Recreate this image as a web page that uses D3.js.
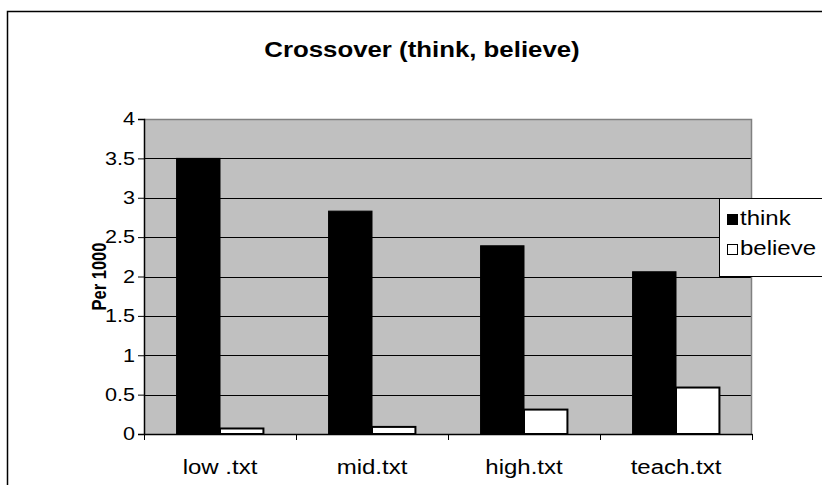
<!DOCTYPE html>
<html>
<head>
<meta charset="utf-8">
<script src="https://cdn.jsdelivr.net/npm/d3@7"></script>
<style>
  html, body { margin: 0; padding: 0; background: #fff; }
  svg { display: block; font-family: Arial, "Liberation Sans", sans-serif; }
</style>
</head>
<body>
<svg id="chart" width="822" height="485"></svg>
<script>
const categories = ["low .txt", "mid.txt", "high.txt", "teach.txt"];
const seriesNames = ["think", "believe"];
const thinkValues = [3.5, 2.83, 2.39, 2.06];
const believeValues = [0.07, 0.09, 0.31, 0.59];
const yTicks = [0, 0.5, 1, 1.5, 2, 2.5, 3, 3.5, 4];
const title = "Crossover (think, believe)";
const yTitle = "Per 1000";

const FONT = "Arial, 'Liberation Sans', sans-serif";
const svg = d3.select("#chart");
const plot = { left: 144, top: 119, right: 752, bottom: 434 };

// outer chart border
svg.append("rect")
  .attr("x", 7.5).attr("y", 11.5).attr("width", 840).attr("height", 500)
  .attr("fill", "#fff").attr("stroke", "#000").attr("stroke-width", 1.5);

const x = d3.scaleBand().domain(categories).range([plot.left, plot.right]).paddingInner(0).paddingOuter(0);
const y = d3.scaleLinear().domain([0, 4]).range([plot.bottom, plot.top]);

// plot background
svg.append("rect")
  .attr("x", plot.left).attr("y", plot.top)
  .attr("width", plot.right - plot.left).attr("height", plot.bottom - plot.top)
  .attr("fill", "#c0c0c0");

// gridlines
svg.append("g").selectAll("line").data(yTicks.filter(d => d > 0 && d < 4)).join("line")
  .attr("x1", plot.left).attr("x2", plot.right)
  .attr("y1", d => Math.round(y(d)) + 0.5).attr("y2", d => Math.round(y(d)) + 0.5)
  .attr("stroke", "#000").attr("stroke-width", 1);

// plot border top and right (grey)
svg.append("path")
  .attr("d", `M${plot.left},${plot.top + 0.5}H${plot.right - 0.5}V${plot.bottom}`)
  .attr("fill", "none").attr("stroke", "#808080").attr("stroke-width", 1.5);

// bars
const groupW = x.bandwidth();
const barW = groupW / 3.5;
const off = (groupW - 2 * barW) / 2;
const data = categories.map((c, i) => ({ c, vals: [thinkValues[i], believeValues[i]] }));

const g = svg.append("g");
data.forEach(d => {
  d.vals.forEach((v, j) => {
    const bx = x(d.c) + off + j * barW;
    g.append("rect")
      .attr("x", bx).attr("y", y(v))
      .attr("width", barW).attr("height", y(0) - y(v))
      .attr("fill", j === 0 ? "#000" : "#fff")
      .attr("stroke", "#000").attr("stroke-width", j === 0 ? 1 : 2);
  });
});

// y axis
const yAxis = d3.axisLeft(y).tickValues(yTicks).tickSize(6).tickPadding(3).tickFormat(d3.format("~g"));
const yg = svg.append("g").attr("transform", `translate(${plot.left},0)`).call(yAxis);
yg.select(".domain").attr("stroke", "#000").attr("stroke-width", 1.5);
yg.selectAll(".tick line").attr("stroke", "#000");
yg.selectAll("text").attr("font-size", 18).attr("fill", "#000")
  .attr("font-family", FONT).attr("class", "stretch");

// x axis
const xAxis = d3.axisBottom(x).tickSize(0).tickPadding(22);
const xg = svg.append("g").attr("transform", `translate(0,${plot.bottom})`).call(xAxis);
xg.select(".domain").attr("stroke", "#000").attr("stroke-width", 1.5);
xg.selectAll("text").attr("font-size", 20).attr("fill", "#000")
  .attr("font-family", FONT).attr("class", "stretch")
  .attr("y", 40).attr("dy", null);
// category boundary tick marks
svg.append("g").selectAll("line").data(categories.concat(["__end"])).join("line")
  .attr("x1", (d, i) => Math.round(plot.left + i * groupW) + 0.5)
  .attr("x2", (d, i) => Math.round(plot.left + i * groupW) + 0.5)
  .attr("y1", plot.bottom).attr("y2", plot.bottom + 6)
  .attr("stroke", "#000");

// title
svg.append("text")
  .attr("class", "stretch")
  .attr("x", 422).attr("y", 57)
  .attr("text-anchor", "middle")
  .attr("font-size", 21.5).attr("font-weight", "bold")
  .text(title);

// y title (glyphs widened horizontally on screen, like the reference)
svg.append("text")
  .attr("transform", `translate(106,${(plot.top + plot.bottom) / 2}) rotate(-90) scale(1,1.2)`)
  .attr("text-anchor", "middle")
  .attr("font-size", 16.5).attr("font-weight", "bold")
  .text(yTitle);

// legend
const lg = svg.append("g");
lg.append("rect")
  .attr("x", 719.5).attr("y", 198.5).attr("width", 120).attr("height", 78)
  .attr("fill", "#fff").attr("stroke", "#000").attr("stroke-width", 1);
seriesNames.forEach((s, i) => {
  const yy = 219 + i * 30;
  lg.append("rect")
    .attr("x", 727.5).attr("y", yy - 4.5).attr("width", 10).attr("height", 10)
    .attr("fill", i === 0 ? "#000" : "#fff").attr("stroke", "#000").attr("stroke-width", 1);
  lg.append("text")
    .attr("class", "stretch")
    .attr("x", 740).attr("y", yy + 6)
    .attr("font-size", 20)
    .text(s);
});

// horizontal stretch of text like the reference rendering
svg.selectAll("text.stretch").each(function () {
  const w = this.getComputedTextLength();
  this.setAttribute("textLength", w * 1.2);
  this.setAttribute("lengthAdjust", "spacingAndGlyphs");
});
</script>
</body>
</html>
